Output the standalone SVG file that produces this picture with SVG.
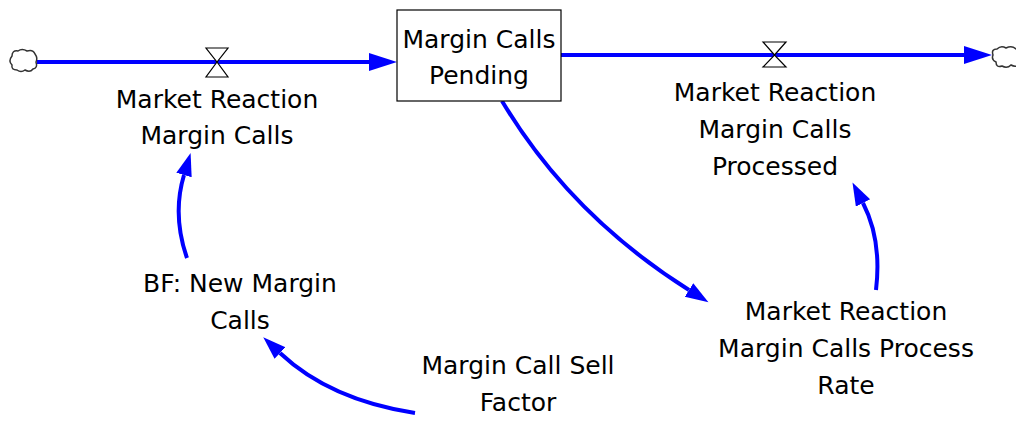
<svg xmlns="http://www.w3.org/2000/svg" width="1016" height="421" viewBox="0 0 1016 421">
<style>
text{font-family:"DejaVu Sans","Liberation Sans",sans-serif;font-size:25px;fill:#000;text-anchor:middle}
.flow{stroke:#0000ff;stroke-width:4;fill:none}
.link{stroke:#0000ff;stroke-width:4;fill:none}
.valve{fill:#fff;stroke:#000;stroke-width:1.2}
.cloud{fill:#fff;stroke:#333;stroke-width:1.5}
</style>
<defs>
<marker id="fa" markerUnits="userSpaceOnUse" markerWidth="30" markerHeight="20" refX="0" refY="9" orient="auto"><path d="M0,0 L28,9 L0,18 Z" fill="#0000ff"/></marker>
<marker id="la" markerUnits="userSpaceOnUse" markerWidth="26" markerHeight="18" refX="0" refY="8" orient="auto"><path d="M0,0 L23,8 L0,16 Z" fill="#0000ff"/></marker>
</defs>
<g id="connectors">
<path class="flow" d="M37 62 L369 62" marker-end="url(#fa)"/>
<path class="flow" d="M561 55 L964 55" marker-end="url(#fa)"/>
<path class="link" d="M187 258 Q172 215 184 175" marker-end="url(#la)"/>
<path class="link" d="M415 413 Q330 400 280 353" marker-end="url(#la)"/>
<path class="link" d="M502 101 Q570 215 689 290" marker-end="url(#la)"/>
<path class="link" d="M876 290 Q882 240 863 203" marker-end="url(#la)"/>
</g>
<g id="source-cloud"><path class="cloud" d="M12 56 Q12 50 18 51 Q22 48 27 51 Q33 49 35 54 Q38 58 36 62 Q38 68 33 69 Q30 73 25 70 Q21 73 17 70 Q11 70 12 65 Q8 61 12 56 Z"/></g>
<g id="sink-cloud"><path class="cloud" d="M993 55 Q991 49 997 49 Q1001 45 1006 48 Q1012 45 1016 49 L1020 49 L1020 64 Q1016 68 1011 65 Q1007 69 1002 66 Q996 68 996 62 Q991 60 993 55 Z"/></g>
<g id="stock-margin-calls-pending">
<rect x="397" y="10" width="164" height="91" fill="#fff" stroke="#000" stroke-width="1.2"/>
<text x="479" y="48">Margin Calls</text>
<text x="479" y="84">Pending</text>
</g>
<g id="flow-market-reaction-margin-calls">
<path class="valve" d="M206 48 L228 48 L217 62 Z M206 77 L228 77 L217 62 Z"/>
<text x="217" y="108">Market Reaction</text>
<text x="217" y="144">Margin Calls</text>
</g>
<g id="flow-market-reaction-margin-calls-processed">
<path class="valve" d="M763 42 L786 42 L774.5 55 Z M763 67 L786 67 L774.5 55 Z"/>
<text x="775" y="101">Market Reaction</text>
<text x="775" y="138">Margin Calls</text>
<text x="775" y="175">Processed</text>
</g>
<g id="bf-new-margin-calls">
<text x="240" y="292">BF: New Margin</text>
<text x="240" y="329">Calls</text>
</g>
<g id="margin-call-sell-factor">
<text x="518" y="374">Margin Call Sell</text>
<text x="518" y="411">Factor</text>
</g>
<g id="process-rate">
<text x="846" y="320">Market Reaction</text>
<text x="846" y="357">Margin Calls Process</text>
<text x="846" y="394">Rate</text>
</g>
</svg>
